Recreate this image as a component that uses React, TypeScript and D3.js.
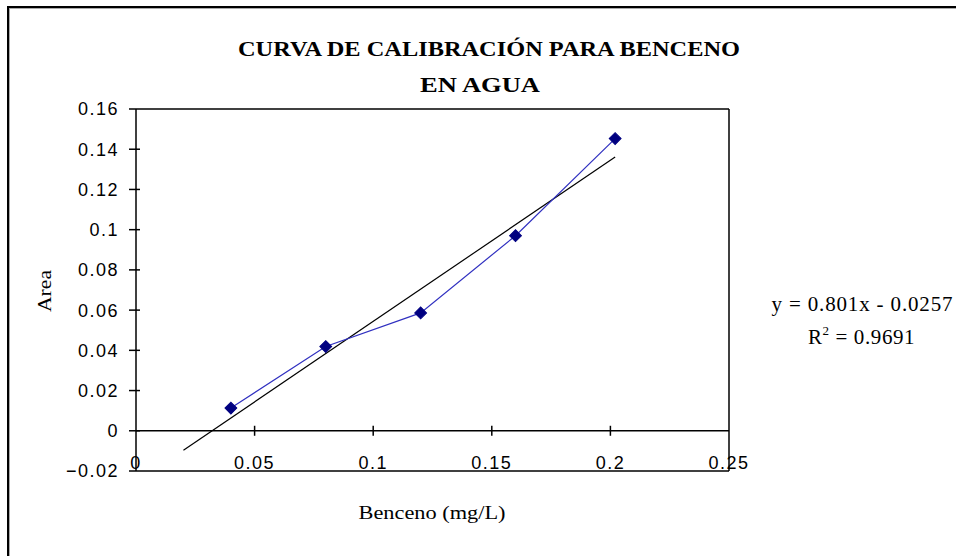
import React from "react";
import * as d3 from "d3";

const concentrations = [0.04, 0.08, 0.12, 0.16, 0.202];
const areas = [0.0113, 0.0419, 0.0586, 0.097, 0.1453];
const trendRange = [0.02, 0.202];
const trendSlope = 0.801;
const trendIntercept = -0.0257;
const xTicks = [0, 0.05, 0.1, 0.15, 0.2, 0.25];
const yTicks = [-0.02, 0, 0.02, 0.04, 0.06, 0.08, 0.1, 0.12, 0.14, 0.16];
const titleLines = ["CURVA DE CALIBRACIÓN PARA BENCENO", "EN AGUA"];
const xLabel = "Benceno (mg/L)";
const yLabel = "Area";
const equation = "y = 0.801x - 0.0257";
const r2Value = " = 0.9691";

const W = 956;
const H = 556;
const left = 136;
const right = 729;
const top = 109;
const bottom = 471;

export default function App() {
  const x = d3.scaleLinear().domain([0, 0.25]).range([left, right]);
  const y = d3.scaleLinear().domain([-0.02, 0.16]).range([bottom, top]);

  const pts = concentrations.map((c, i) => [c, areas[i]] as [number, number]);
  const line = d3
    .line<[number, number]>()
    .x((d) => x(d[0]))
    .y((d) => y(d[1]));
  const trendPts = trendRange.map((t) => [t, trendSlope * t + trendIntercept] as [number, number]);
  const marker = d3.symbol().type(d3.symbolSquare).size(70)();

  const tickFont = "'Liberation Sans', Arial, sans-serif";
  const serif = "'Liberation Serif', 'Times New Roman', serif";

  return (
    <svg
      width={W}
      height={H}
      style={{ position: "absolute", left: 0, top: 0, background: "#fff" }}
    >
      <rect x={0} y={0} width={W} height={H} fill="#fff" />
      {/* outer frame */}
      <line x1={8} y1={6} x2={8} y2={H} stroke="#000" strokeWidth={2} />
      <line x1={7} y1={7} x2={W} y2={7} stroke="#000" strokeWidth={2} />
      <line x1={9.5} y1={8} x2={9.5} y2={H} stroke="#aaa" strokeWidth={1} />
      <line x1={9} y1={8.5} x2={W} y2={8.5} stroke="#aaa" strokeWidth={1} />

      {/* title */}
      <text
        x={489}
        y={56}
        textAnchor="middle"
        fontFamily={serif}
        fontWeight="bold"
        fontSize={21}
        textLength={502}
        lengthAdjust="spacingAndGlyphs"
      >
        {titleLines[0]}
      </text>
      <text
        x={480}
        y={92}
        textAnchor="middle"
        fontFamily={serif}
        fontWeight="bold"
        fontSize={21}
        textLength={120}
        lengthAdjust="spacingAndGlyphs"
      >
        {titleLines[1]}
      </text>

      {/* plot frame */}
      <line x1={left} y1={top} x2={right} y2={top} stroke="#000" strokeWidth={1.5} />
      <line x1={right} y1={top} x2={right} y2={bottom} stroke="#000" strokeWidth={1.5} />
      <line x1={left} y1={bottom} x2={right} y2={bottom} stroke="#000" strokeWidth={1.5} />
      <line x1={left} y1={top} x2={left} y2={bottom} stroke="#000" strokeWidth={1.5} />
      {/* zero line (x axis) */}
      <line x1={left} y1={y(0)} x2={right} y2={y(0)} stroke="#000" strokeWidth={1.5} />

      {/* y ticks */}
      {yTicks.map((t) => (
        <g key={"y" + t}>
          <line
            x1={left - 7}
            x2={t === -0.02 || t === 0.16 ? left : left + 4}
            y1={y(t)}
            y2={y(t)}
            stroke="#000"
            strokeWidth={1.5}
          />
          <text
            x={119}
            y={y(t)}
            dy="0.36em"
            textAnchor="end"
            fontFamily={tickFont}
            fontSize={18}
            letterSpacing={1.5}
            fill="#000"
          >
            {d3.format("")(+t.toFixed(2))}
          </text>
        </g>
      ))}

      {/* x ticks */}
      {xTicks.map((t) => (
        <g key={"x" + t}>
          {t > 0 && t < 0.25 && (
            <line x1={x(t)} x2={x(t)} y1={y(0) - 5} y2={y(0) + 5} stroke="#000" strokeWidth={1.5} />
          )}
          <text
            x={x(t)}
            y={463}
            dy="0.36em"
            textAnchor="middle"
            fontFamily={tickFont}
            fontSize={18}
            letterSpacing={1.5}
            fill="#000"
          >
            {d3.format("")(+t.toFixed(2))}
          </text>
        </g>
      ))}

      {/* trendline */}
      <path d={line(trendPts) || ""} fill="none" stroke="#000" strokeWidth={1.2} />

      {/* data series */}
      <path d={line(pts) || ""} fill="none" stroke="#3030c0" strokeWidth={1.2} />
      {pts.map((p, i) => (
        <path
          key={i}
          d={marker || ""}
          transform={`translate(${x(p[0])},${y(p[1])}) rotate(45)`}
          fill="#000080"
          stroke="#000080"
          strokeWidth={1}
        />
      ))}

      {/* axis titles */}
      <text
        x={432}
        y={519}
        textAnchor="middle"
        fontFamily={serif}
        fontSize={18}
        textLength={147}
        lengthAdjust="spacingAndGlyphs"
      >
        {xLabel}
      </text>
      <text
        transform="translate(51,291) rotate(-90)"
        textAnchor="middle"
        fontFamily={serif}
        fontSize={18}
        textLength={42}
        lengthAdjust="spacingAndGlyphs"
      >
        {yLabel}
      </text>

      {/* equation */}
      <text
        x={862}
        y={311}
        textAnchor="middle"
        fontFamily={serif}
        fontSize={21}
        textLength={181}
        lengthAdjust="spacing"
      >
        {equation}
      </text>
      <text x={808} y={344} fontFamily={serif} fontSize={21} letterSpacing={0.6}>
        R
        <tspan fontSize={13} dy={-9}>
          2
        </tspan>
        <tspan dy={9}>{r2Value}</tspan>
      </text>
    </svg>
  );
}
